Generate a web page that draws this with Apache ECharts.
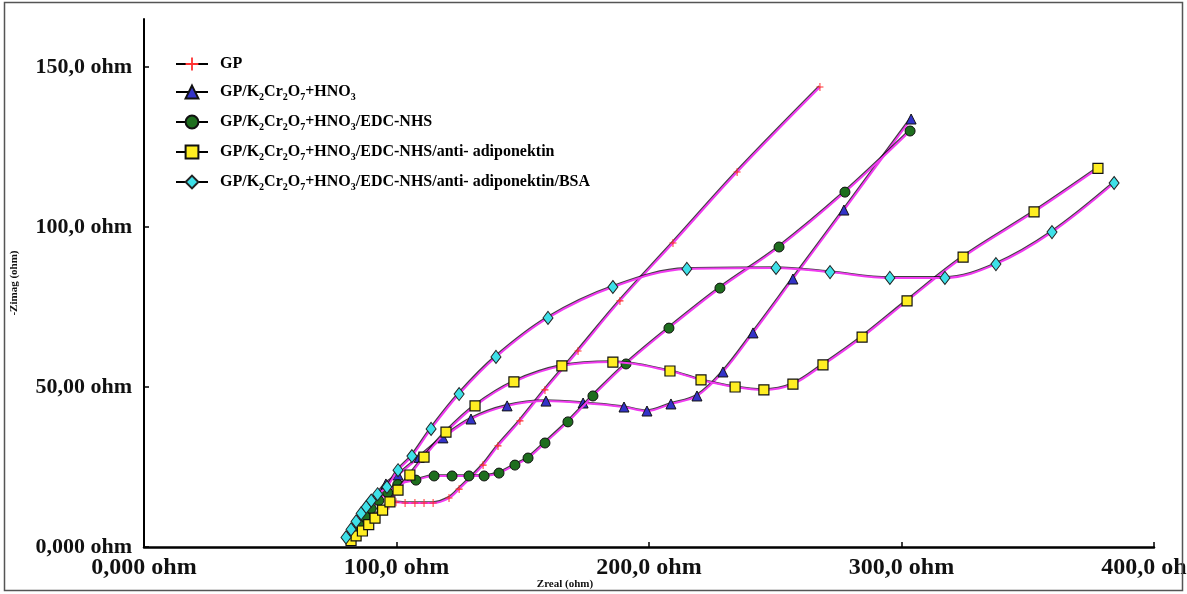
<!DOCTYPE html>
<html>
<head>
<meta charset="utf-8">
<script src="https://cdn.jsdelivr.net/npm/echarts@6/dist/echarts.min.js"></script>
<style>
html,body{margin:0;padding:0;background:#fff;}
#c{width:1187px;height:594px;}
</style>
</head>
<body>
<div id="c"></div>
<script>
// ---- data ----
const seriesNames = [
  'GP',
  'GP/K2Cr2O7+HNO3',
  'GP/K2Cr2O7+HNO3/EDC-NHS',
  'GP/K2Cr2O7+HNO3/EDC-NHS/anti- adiponektin',
  'GP/K2Cr2O7+HNO3/EDC-NHS/anti- adiponektin/BSA'
];
const gpX = [80, 82.5, 85, 88, 91, 94, 97, 99.8, 103.4, 107.3, 110.9, 114.5, 120.8, 124.8, 134.3, 140.2, 148.9, 158.8, 171.9, 188.5, 209.5, 234.9, 267.7];
const gpY = [2.5, 4, 5.5, 7.5, 9.5, 11.5, 13, 14, 13.75, 13.75, 13.75, 13.75, 15.3, 18.1, 25.6, 31.6, 39.4, 49.1, 61.25, 76.9, 95, 117.2, 143.75];
const triX = [82, 84, 86, 88, 90, 92.5, 95.8, 100.6, 109, 118.4, 129.5, 143.8, 159.2, 173.9, 190.1, 199.2, 208.7, 219.0, 229.3, 241.2, 257.0, 277.2, 303.8];
const triY = [3.5, 6, 8.5, 11, 13.5, 16.5, 19.7, 22.5, 28, 34.1, 40, 44.1, 45.6, 45, 43.75, 42.5, 44.7, 47.2, 54.7, 66.9, 83.75, 105.3, 133.75];
const cirX = [81, 83, 85, 87.5, 90, 93, 96.5, 100.5, 107.7, 114.9, 122, 128.7, 134.7, 140.6, 146.9, 152.1, 158.8, 167.9, 177.8, 190.9, 207.9, 228.1, 251.5, 277.6, 303.4];
const cirY = [3, 5, 7, 9.5, 12, 14.5, 17, 19.5, 20.9, 22.2, 22.2, 22.2, 22.2, 23.1, 25.6, 27.8, 32.5, 39.1, 47.2, 57.2, 68.4, 80.9, 93.75, 110.9, 130];
const sqX = [82, 84, 86.5, 89, 91.5, 94.5, 97.4, 100.6, 105.3, 110.9, 119.6, 131.1, 146.5, 165.5, 185.7, 208.3, 220.6, 234.1, 245.5, 257.0, 268.9, 284.4, 302.2, 324.4, 352.5, 377.8];
const sqY = [2, 3.5, 5, 7, 9, 11.5, 14.1, 17.8, 22.5, 28.1, 35.9, 44.1, 51.6, 56.6, 57.8, 55, 52.2, 50, 49.1, 50.9, 56.9, 65.6, 76.9, 90.6, 104.7, 118.3];
const diaX = [80, 82, 84, 86, 88, 90, 92.5, 96.2, 100.6, 106.1, 113.7, 124.8, 139.4, 160, 185.7, 215.0, 250.3, 271.7, 295.4, 317.2, 337.4, 359.6, 384.2];
const diaY = [3, 5.5, 8, 10.5, 12.5, 14.5, 16.5, 18.75, 24, 28.4, 36.9, 47.8, 59.4, 71.6, 81.25, 86.9, 87.2, 85.9, 84.1, 84.1, 88.4, 98.4, 113.75];

const xTickValues = [0, 100, 200, 300, 400];
const xTickLabels = ['0,000 ohm', '100,0 ohm', '200,0 ohm', '300,0 ohm', '400,0 ohm'];
const yTickValues = [0, 50, 100, 150];
const yTickLabels = ['0,000 ohm', '50,00 ohm', '100,0 ohm', '150,0 ohm'];
const xAxisTitle = 'Zreal (ohm)';
const yAxisTitle = '-Zimag (ohm)';

// ---- build ----
function zip(xs, ys) { return xs.map((x, i) => [x, ys[i]]); }
const serif = '"Liberation Serif", "Times New Roman", serif';
const lineColor = '#f03cf0';
const plusPath = 'path://M4.3,0h1.4v10h-1.4zM0,4.3h10v1.4h-10z';

const styles = [
  { symbol: plusPath, size: [7, 8], color: '#ff3030', border: '#ff3030', bw: 0 },
  { symbol: 'triangle', size: [10, 10], color: '#3333c8', border: '#111', bw: 1 },
  { symbol: 'circle', size: 10, color: '#1e6e1e', border: '#111', bw: 1 },
  { symbol: 'rect', size: 10, color: '#ffee22', border: '#111', bw: 1.2 },
  { symbol: 'diamond', size: [10, 13], color: '#3ee0e8', border: '#222', bw: 1 }
];
const dataSets = [zip(gpX, gpY), zip(triX, triY), zip(cirX, cirY), zip(sqX, sqY), zip(diaX, diaY)];

const series = seriesNames.map((name, i) => ({
  name: name,
  type: 'line',
  data: dataSets[i],
  smooth: 0.35,
  symbol: styles[i].symbol,
  symbolSize: styles[i].size,
  showAllSymbol: true,
  itemStyle: { color: styles[i].color, borderColor: styles[i].border, borderWidth: styles[i].bw, opacity: 1 },
  lineStyle: { color: lineColor, width: 2, shadowColor: 'rgba(0,0,0,0.75)', shadowBlur: 0, shadowOffsetX: -0.8, shadowOffsetY: -0.8 },
  emphasis: { disabled: true },
  animation: false,
  z: 2 + i
}));

function richName(name) {
  return name.split(/(\d)/).filter(s => s.length).map(s => /^\d$/.test(s) ? '{s|' + s + '}' : '{n|' + s + '}').join('');
}

const chart = echarts.init(document.getElementById('c'), null, { renderer: 'canvas' });
chart.setOption({
  backgroundColor: '#ffffff',
  animation: false,
  grid: { left: 144, right: 33, top: 19, bottom: 47, containLabel: false, outerBoundsMode: 'none' },
  legend: {
    orient: 'vertical',
    left: 170,
    top: 51,
    itemWidth: 32,
    itemHeight: 16,
    itemGap: 12,
    lineStyle: { color: '#000', width: 2 },
    formatter: richName,
    textStyle: {
      padding: [0, 0, 0, 7],
      rich: {
        n: { fontFamily: serif, fontWeight: 'bold', fontSize: 16, color: '#000', lineHeight: 20 },
        s: { fontFamily: serif, fontWeight: 'bold', fontSize: 10, color: '#000', lineHeight: 12, verticalAlign: 'bottom' }
      }
    },
    data: seriesNames
  },
  xAxis: {
    type: 'value',
    min: 0, max: 400, interval: 100,
    axisLine: { show: true, lineStyle: { color: '#000', width: 2.5 } },
    axisTick: { show: true, inside: true, length: 5, customValues: xTickValues, lineStyle: { color: '#000', width: 1.5 } },
    axisLabel: {
      customValues: xTickValues,
      formatter: v => xTickLabels[xTickValues.indexOf(v)] || '',
      fontFamily: serif, fontWeight: 'bold', fontSize: 24, color: '#111', margin: 9
    },
    splitLine: { show: false }
  },
  yAxis: {
    type: 'value',
    min: 0, max: 165,
    axisLine: { show: true, lineStyle: { color: '#000', width: 2 } },
    axisTick: { show: true, inside: true, length: 5, customValues: yTickValues, lineStyle: { color: '#000', width: 1.5 } },
    axisLabel: {
      customValues: yTickValues,
      formatter: v => yTickLabels[yTickValues.indexOf(v)] || '',
      fontFamily: serif, fontWeight: 'bold', fontSize: 22, color: '#111', margin: 12
    },
    splitLine: { show: false },
    name: yAxisTitle,
    nameLocation: 'middle',
    nameGap: 124,
    nameTextStyle: { fontFamily: serif, fontWeight: 'bold', fontSize: 11, color: '#111' }
  },
  graphic: [
    { type: 'rect', shape: { x: 4.5, y: 2.5, width: 1178, height: 588 }, style: { fill: 'none', stroke: '#555', lineWidth: 1.5 }, silent: true, z: 100 },
    { type: 'text', x: 565, y: 584, style: { text: xAxisTitle, font: 'bold 11px ' + serif, fill: '#111', textAlign: 'center', textVerticalAlign: 'middle' }, silent: true }
  ],
  series: series
});
</script>
</body>
</html>
